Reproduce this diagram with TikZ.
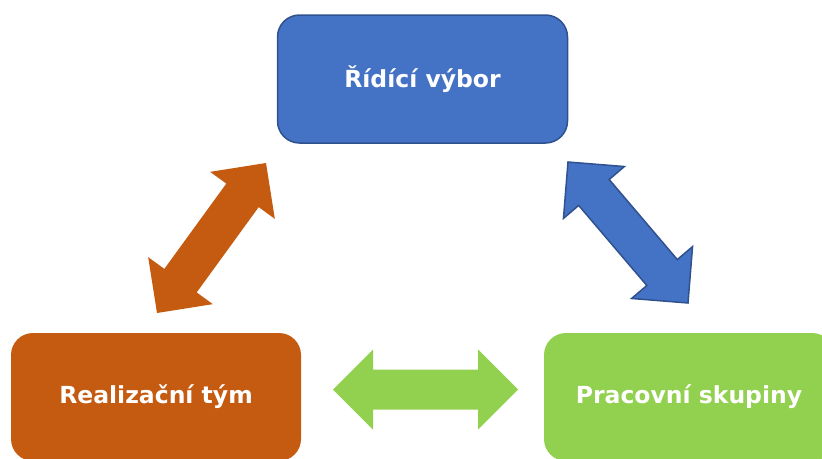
\documentclass[tikz,border=0pt]{standalone}
\usepackage{fontspec}
\setmainfont{DejaVu Sans}
\usetikzlibrary{calc}

\definecolor{ridiciblue}{HTML}{4472C4}
\definecolor{ridiciedge}{HTML}{2F528F}
\definecolor{realorange}{HTML}{C55A11}
\definecolor{pracgreen}{HTML}{92D050}

\tikzset{
    box/.style={rounded corners=22pt, minimum width=290pt, minimum height=128pt,
        text=white, font=\fontsize{23.5}{28}\selectfont\bfseries},
}

% block arrow with two heads between two named points
\newcommand{\dblarrow}[3]{%
    \filldraw [#3]
        (#1) -- ($(#1)!40pt!(#2)!40pt!90:(#2)$) -- ($(#1)!40pt!(#2)!20pt!90:(#2)$) --
        ($(#2)!40pt!(#1)!20pt!-90:(#1)$) -- ($(#2)!40pt!(#1)!40pt!-90:(#1)$) --
        (#2) -- ($(#2)!40pt!(#1)!40pt!90:(#1)$) -- ($(#2)!40pt!(#1)!20pt!90:(#1)$) --
        ($(#1)!40pt!(#2)!20pt!-90:(#2)$) -- ($(#1)!40pt!(#2)!40pt!-90:(#2)$) -- cycle;
}

\begin{document}
\begin{tikzpicture}[x=1pt, y=1pt]
        \useasboundingbox (0, 0) rectangle (822, -458);
        \clip (0, 0) rectangle (822, -458);
        \node [box, fill=ridiciblue, draw=ridiciedge, line width=1.5pt] (ridici) at (422.5, -79) {Řídící výbor};
        \node [box, fill=realorange] (realizacni) at (156, -397) {Realizační tým};
        \node [box, fill=pracgreen] (pracovni) at (689, -397) {Pracovní skupiny};
        \coordinate (or-a) at (157, -313);
        \coordinate (or-b) at (266, -163);
        \coordinate (bl-a) at (568, -162);
        \coordinate (bl-b) at (688, -303);
        \coordinate (gr-a) at (333, -389.5);
        \coordinate (gr-b) at (518, -389.5);
        \dblarrow{or-a}{or-b}{fill=realorange, draw=none}
        \dblarrow{bl-a}{bl-b}{fill=ridiciblue, draw=ridiciedge, line width=1.5pt, line join=miter}
        \dblarrow{gr-a}{gr-b}{fill=pracgreen, draw=none}
    \end{tikzpicture}
\end{document}
